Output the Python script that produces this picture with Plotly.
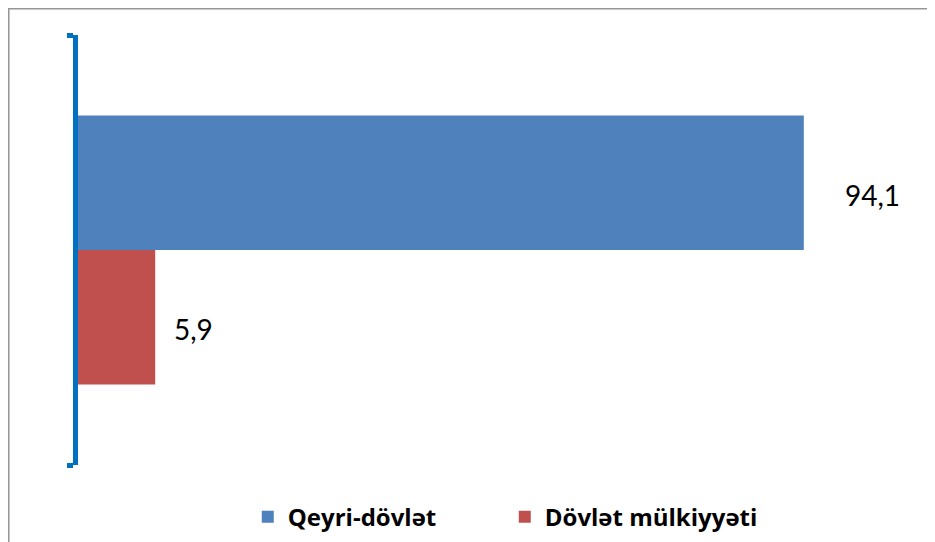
import plotly.graph_objects as go

# ---- data ----
categories = [""]
series_names = ["Qeyri-dövlət", "Dövlət mülkiyyəti"]
series_values = [94.1, 5.9]
value_labels = ["94,1", "5,9"]

# ---- styles ----
colors = ["#4F81BD", "#C0504D"]
AXIS_MIN = -4.6
AXIS_MAX = 109.9
label_offsets_px = [39, 17]
FONT = "Lato, 'Open Sans', Arial, sans-serif"
LEGEND_FONT = "'Open Sans', Lato, Arial, sans-serif"

fig = go.Figure()
for name, val, col in zip(series_names, series_values, colors):
    fig.add_trace(go.Bar(
        y=categories,
        x=[val - AXIS_MIN],
        base=AXIS_MIN,
        orientation="h",
        name=name,
        marker=dict(color=col, line=dict(width=0)),
        hovertemplate=f"{name}: {val}<extra></extra>",
    ))

annotations = []
for i, (val, lab) in enumerate(zip(series_values, value_labels)):
    annotations.append(dict(
        x=val, y=0, xref="x", yref="y",
        text=lab, showarrow=False,
        xanchor="left", yanchor="middle",
        xshift=label_offsets_px[i],
        yshift=(67 if i == 0 else -67) - 12,
        font=dict(family=FONT, size=28, color="#000000"),
    ))

fig.update_layout(
    width=927, height=534,
    margin=dict(l=70, r=14.5, t=27, b=77, autoexpand=False),
    paper_bgcolor="white",
    plot_bgcolor="white",
    barmode="group",
    bargap=0.374,
    bargroupgap=0,
    showlegend=True,
    legend=dict(
        orientation="h",
        x=0.2135, xanchor="left",
        y=-0.1213, yanchor="middle",
        font=dict(family=LEGEND_FONT, size=24, color="#000000", weight="bold"),
        entrywidth=222,
        indentation=-10,
        itemclick=False,
        bgcolor="rgba(0,0,0,0)",
    ),
    xaxis=dict(
        range=[AXIS_MIN, AXIS_MAX],
        visible=False,
        showgrid=False,
        zeroline=False,
        automargin=False,
    ),
    yaxis=dict(
        autorange="reversed",
        showline=True,
        linecolor="#0070C0",
        linewidth=5,
        ticks="outside",
        tickson="boundaries",
        ticklen=6,
        tickwidth=5,
        tickcolor="#0070C0",
        showticklabels=False,
        showgrid=False,
        zeroline=False,
        automargin=False,
    ),
    annotations=annotations,
    shapes=[dict(
        type="rect", xref="paper", yref="paper",
        x0=-0.0825, x1=1.2, y0=-0.4, y1=1.0616,
        line=dict(color="#969696", width=2),
        fillcolor="rgba(0,0,0,0)",
        layer="below",
    )],
)

fig.write_html("out.html")
